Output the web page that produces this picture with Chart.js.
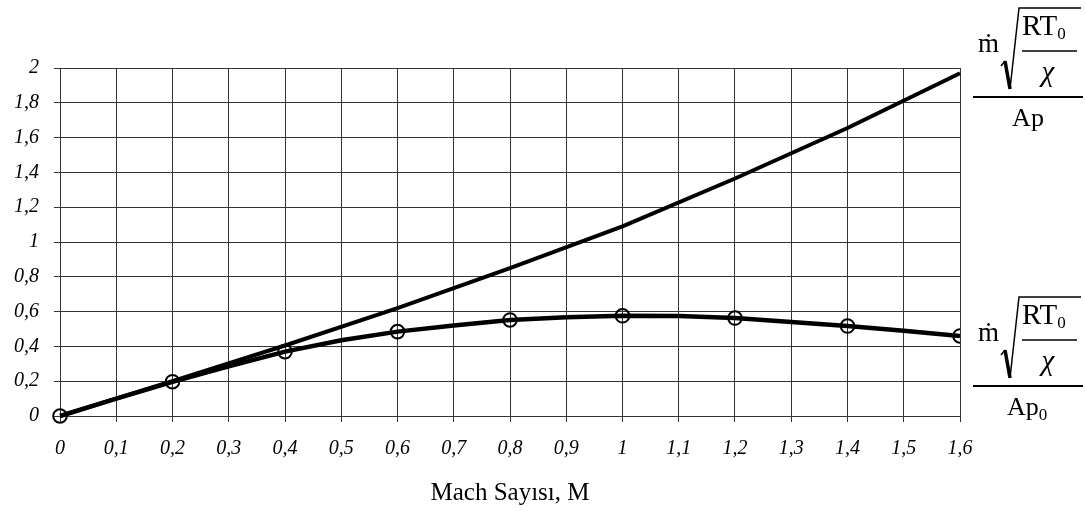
<!DOCTYPE html>
<html>
<head>
<meta charset="utf-8">
<script src="https://cdn.jsdelivr.net/npm/chart.js@4.4.1/dist/chart.umd.min.js"></script>
<style>
  body { margin: 0; background: #fff; }
</style>
</head>
<body>
<canvas id="flow_chart" width="1085" height="511"></canvas>
<script>
// Mach numbers along the axis and the two flow parameters
const machSteps = [0, 0.1, 0.2, 0.3, 0.4, 0.5, 0.6, 0.7, 0.8, 0.9, 1.0, 1.1, 1.2, 1.3, 1.4, 1.5, 1.6];
const flowPerAp0 = [0, 0.10, 0.197, 0.285, 0.37, 0.435, 0.485, 0.52, 0.552, 0.567, 0.576, 0.575, 0.563, 0.54, 0.517, 0.49, 0.46];
const machUpper = [0, 0.2, 0.4, 0.6, 0.8, 1.0, 1.2, 1.4, 1.6];
const flowPerAp = [0, 0.2, 0.405, 0.62, 0.85, 1.09, 1.365, 1.655, 1.97];

// Tick values and labels (Turkish decimal comma)
const xTickValues = [0, 0.1, 0.2, 0.3, 0.4, 0.5, 0.6, 0.7, 0.8, 0.9, 1.0, 1.1, 1.2, 1.3, 1.4, 1.5, 1.6];
const xTickLabels = ['0', '0,1', '0,2', '0,3', '0,4', '0,5', '0,6', '0,7', '0,8', '0,9', '1', '1,1', '1,2', '1,3', '1,4', '1,5', '1,6'];
const yTickValues = [0, 0.2, 0.4, 0.6, 0.8, 1.0, 1.2, 1.4, 1.6, 1.8, 2.0];
const yTickLabels = ['0', '0,2', '0,4', '0,6', '0,8', '1', '1,2', '1,4', '1,6', '1,8', '2'];

const xTitle = 'Mach Sayısı, M';

const serif = "'Liberation Serif', 'Times New Roman', serif";
const tickFont = { family: serif, size: 20, style: 'italic' };
const gridColor = '#333';

/**
 * Draws the mass flow parameter label  ṁ√(RT0/χ) / Ap(0)  next to a curve.
 * @param ctx - canvas context
 * @param top - y of the radical's overbar
 * @param withSub - true to write Ap0 instead of Ap
 */
function drawFlowLabel(ctx, top, withSub)
{
    ctx.save();
    ctx.fillStyle = '#000';
    ctx.strokeStyle = '#000';
    ctx.textBaseline = 'alphabetic';

    // m with dot
    ctx.font = `27px ${serif}`;
    ctx.textAlign = 'left';
    ctx.fillText('ṁ', 978, top + 44);

    // radical sign
    ctx.lineCap = 'butt';
    ctx.lineWidth = 1.5;
    ctx.beginPath();
    ctx.moveTo(1001, top + 58);
    ctx.lineTo(1005, top + 53);
    ctx.stroke();
    ctx.lineWidth = 3.5;
    ctx.beginPath();
    ctx.moveTo(1005, top + 53);
    ctx.lineTo(1010, top + 81);
    ctx.stroke();
    ctx.lineWidth = 1.5;
    ctx.beginPath();
    ctx.moveTo(1010, top + 81);
    ctx.lineTo(1019, top);
    ctx.lineTo(1081, top);
    ctx.stroke();

    // RT0 over chi
    ctx.font = `29px ${serif}`;
    ctx.fillText('RT', 1022, top + 27);
    const rtWidth = ctx.measureText('RT').width;
    ctx.font = `17px ${serif}`;
    ctx.fillText('0', 1022 + rtWidth, top + 31);

    ctx.lineWidth = 1.5;
    ctx.beginPath();
    ctx.moveTo(1022, top + 43);
    ctx.lineTo(1077, top + 43);
    ctx.stroke();

    ctx.font = `italic 29px ${serif}`;
    ctx.textAlign = 'center';
    ctx.fillText('χ', 1048, top + 73);

    // main fraction bar
    ctx.lineWidth = 2;
    ctx.beginPath();
    ctx.moveTo(973, top + 89);
    ctx.lineTo(1083, top + 89);
    ctx.stroke();

    // denominator
    ctx.textAlign = 'left';
    ctx.font = `26px ${serif}`;
    if (withSub)
    {
        ctx.fillText('Ap', 1007, top + 118);
        const apWidth = ctx.measureText('Ap').width;
        ctx.font = `17px ${serif}`;
        ctx.fillText('0', 1007 + apWidth, top + 123);
    }
    else
    {
        const apWidth = ctx.measureText('Ap').width;
        ctx.fillText('Ap', 1028 - apWidth / 2, top + 118);
    }
    ctx.restore();
}

// Plugin that writes the two curve labels on the right side of the plot
const curveLabels = {
    id: 'curveLabels',
    afterDraw(chart)
    {
        drawFlowLabel(chart.ctx, 8, false);
        drawFlowLabel(chart.ctx, 297, true);
    }
};

new Chart(document.getElementById('flow_chart').getContext('2d'),
{
    type: 'line',
    data: {
        datasets: [
            {
                label: 'ṁ√(RT0/χ)/Ap',
                data: machUpper.map((m, i) => ({ x: m, y: flowPerAp[i] })),
                borderColor: '#000',
                borderWidth: 4,
                pointRadius: 0,
                tension: 0,
                clip: { left: 0, top: false, right: 4, bottom: 0 },
                order: 2
            },
            {
                label: 'ṁ√(RT0/χ)/Ap0',
                data: machSteps.map((m, i) => ({ x: m, y: flowPerAp0[i] })),
                borderColor: '#000',
                borderWidth: 4.5,
                tension: 0,
                // circles only on every second point (0, 0.2, 0.4 ...)
                pointRadius: c => c.dataIndex % 2 === 0 ? 6.8 : 0,
                pointBorderWidth: 2,
                pointBorderColor: '#000',
                pointBackgroundColor: 'rgba(0,0,0,0)',
                clip: { left: false, top: false, right: 0, bottom: false },
                order: 1
            }
        ]
    },
    options: {
        responsive: false,
        animation: false,
        devicePixelRatio: 1,
        layout: { padding: { top: 68, right: 125, left: 0, bottom: 0 } },
        plugins: {
            legend: { display: false },
            tooltip: { enabled: false }
        },
        scales: {
            x: {
                type: 'linear',
                min: 0,
                max: 1.6,
                afterBuildTicks: s => { s.ticks = xTickValues.map(v => ({ value: v })); },
                afterFit: s => { s.height = 95; },
                ticks: {
                    callback: (v, i) => xTickLabels[i],
                    font: tickFont,
                    color: '#000',
                    padding: 15,
                    maxRotation: 0,
                    autoSkip: false
                },
                grid: { color: gridColor, lineWidth: 1, tickLength: 6 },
                border: { color: gridColor, width: 1 },
                title: {
                    display: true,
                    text: xTitle,
                    font: { family: serif, size: 25 },
                    color: '#000',
                    padding: { top: 0, bottom: 3 }
                }
            },
            y: {
                type: 'linear',
                min: 0,
                max: 2,
                afterBuildTicks: s => { s.ticks = yTickValues.map(v => ({ value: v })); },
                afterFit: s => { s.width = 60; },
                ticks: {
                    callback: (v, i) => yTickLabels[i],
                    font: tickFont,
                    color: '#000',
                    padding: 15,
                    autoSkip: false
                },
                grid: { color: gridColor, lineWidth: 1, tickLength: 6 },
                border: { color: gridColor, width: 1 }
            }
        }
    },
    plugins: [curveLabels]
});
</script>
</body>
</html>
